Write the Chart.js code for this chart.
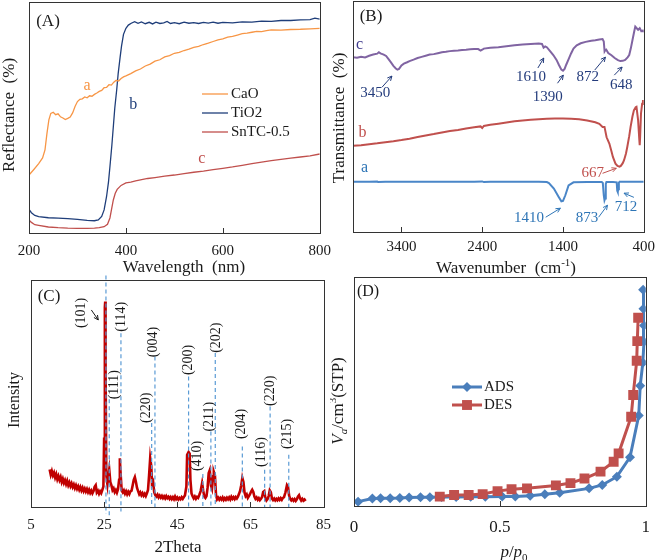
<!DOCTYPE html>
<html><head><meta charset="utf-8">
<script src="https://cdn.jsdelivr.net/npm/chart.js@4.4.1/dist/chart.umd.min.js"></script>
<style>
html,body{margin:0;padding:0;background:#fff;width:661px;height:560px;overflow:hidden;}
canvas{position:absolute;}
</style></head><body>
<canvas id="cA" width="340" height="280" style="left:0px;top:0px"></canvas>
<canvas id="cB" width="331" height="280" style="left:330px;top:0px"></canvas>
<canvas id="cC" width="340" height="290" style="left:0px;top:270px"></canvas>
<canvas id="cD" width="331" height="290" style="left:330px;top:270px"></canvas>
<script>
// ---------- Panel A: UV-vis reflectance ----------
const wlCaO = [200,210,220,228,233,237,241,245,250,255,260,265,270,275,280,285,290,295,300,305,310,315,320,325,330,335,340,345,350,355,360,365,370,375,380,385,390,395,400,410,420,430,440,450,460,470,480,490,500,510,520,530,540,550,560,570,580,590,600,610,620,630,640,650,660,670,680,690,700,720,740,760,780,800];
const refCaO = [25.1,27.5,30.0,32.5,36,43,49,51.8,52.3,51.2,51.6,50.3,49.8,49.1,49.6,50.2,52.0,54.8,56.9,57.9,58.1,58.9,58.5,59.4,59.2,60.0,60.6,61.3,61.7,62.9,63.0,64.2,64.0,65.3,66.1,65.8,66.9,67.6,68.0,69.0,70.2,71.0,72.3,73.1,74.4,75.0,76.2,76.8,77.8,78.2,79.0,79.6,80.4,80.8,81.6,82.2,82.9,83.6,84.0,84.8,85.1,85.7,86.3,86.5,86.9,87.3,87.2,87.6,87.9,87.8,88.1,88.2,88.4,88.6];
const wlTiO2 = [200,205,212,220,240,260,280,300,320,335,343,350,355,360,364,367,371,374,377,381,384,388,391,395,400,405,411,418,425,432,440,448,455,462,470,478,485,492,500,510,520,530,540,550,560,570,580,590,600,620,640,660,680,700,720,740,760,780,790,800];
const refTiO2 = [10.2,8.8,7.6,7.1,6.6,6.4,6.2,5.9,5.5,5.3,5.7,7.2,10,15.7,22,28.7,38,46.0,54,62,69,76,81,86,88.6,90.0,90.8,91.5,90.8,91.4,90.6,91.2,90.5,91.3,90.7,91.0,91.6,90.7,91.1,90.6,91.3,90.8,91.1,90.7,91.2,90.9,91.3,90.8,91.2,91.0,91.4,91.3,91.7,91.6,92.0,92.0,92.3,92.4,93.0,92.6];
const wlSnTC = [200,205,212,220,240,260,280,300,320,335,345,355,362,367,371,374,378,382,390,400,410,420,430,445,460,480,500,520,540,560,580,600,620,640,660,680,700,720,740,760,780,800];
const refSnTC = [5.6,4.6,3.6,3.3,2.6,2.3,2.1,2.0,2.0,2.1,2.3,2.7,3.8,6.5,11,14.3,17.2,18.9,20.6,21.7,22.0,22.6,23.0,23.6,24.0,24.6,25.1,25.7,26.3,26.8,27.4,28.0,28.6,29.3,30.0,30.7,31.3,31.9,32.4,32.9,33.4,34.2];
const ticksA = [200,400,600,800];

// ---------- Panel B: FTIR ----------
const wnC = [4000,3950,3900,3850,3800,3750,3700,3680,3660,3620,3590,3560,3530,3500,3470,3450,3430,3400,3370,3330,3300,3250,3200,3150,3100,3050,3000,2950,2900,2850,2800,2750,2700,2650,2600,2550,2500,2450,2420,2400,2380,2300,2200,2100,2000,1900,1800,1700,1660,1640,1620,1600,1560,1520,1480,1450,1420,1400,1380,1360,1330,1300,1270,1230,1180,1120,1050,1000,950,910,895,885,875,865,840,800,760,720,690,660,630,600,580,560,540,520,505,490,470,450,430,410,400];
const trC = [75.6,75.4,75.9,75.6,76.3,76.8,77.2,77.8,77.3,76.8,76.2,74.8,73.4,71.9,70.8,70.3,70.6,72.1,72.9,73.5,74.0,74.6,75.3,75.8,76.3,76.8,77.0,77.4,77.8,78.0,78.3,78.5,78.6,78.8,78.9,79.1,79.2,79.2,78.5,78.9,79.4,79.8,80.0,80.4,80.8,81.2,81.4,81.6,81.4,79.8,80.3,80.0,78.3,76.6,74.5,72.3,70.3,69.8,70.6,72.4,74.8,77.3,79.4,80.8,81.7,82.3,82.8,83.0,83.3,83.5,82.5,78.2,78.8,79.0,77.5,76.5,75.3,74.4,74.0,74.1,74.5,75.6,76.6,79.5,83.0,86.5,88.9,88.3,87.5,88.2,86.9,87.2,86.5];
const wnB = [4000,3900,3800,3700,3600,3500,3400,3300,3200,3100,3000,2900,2800,2700,2600,2500,2420,2400,2380,2300,2200,2100,2000,1900,1800,1700,1600,1500,1400,1300,1200,1100,1000,950,910,886,860,826,800,782,750,725,700,684,660,644,620,604,580,563,540,522,500,490,470,455,450,445,434,420,410,400];
const trB = [37.3,37.6,38.0,38.4,38.9,39.3,39.8,40.4,41.1,41.8,42.4,43.1,43.7,44.2,44.8,45.3,45.7,45.0,45.9,46.4,46.9,47.4,47.9,48.3,48.6,48.8,49.0,49.1,49.1,49.0,48.8,48.3,47.5,46.8,45.5,45.5,41.0,38.3,35.0,32.5,29.6,28.6,28.3,28.6,29.8,31.1,34.0,36.8,41.5,45.5,50.0,52.7,54.0,54.2,48.4,40.0,37.6,41.0,51.3,55.5,57.1,55.0];
const wnA = [4000,3800,3700,3690,3600,3400,3000,2500,2400,2380,2300,2000,1700,1600,1574,1513,1453,1420,1400,1371,1331,1270,1100,920,907,895,886,878,870,862,780,735,728,722,716,708,700,400];
const trA = [21.7,21.7,21.9,21.6,21.7,21.7,21.7,21.7,21.9,21.6,21.8,21.7,21.7,21.6,21.2,18.8,15.2,13.3,13.5,15.9,20.2,21.5,21.6,21.6,21.2,16.0,13.7,14.5,20.8,21.6,21.6,21.5,17.8,17.3,18.5,21.3,21.7,21.7];
const ticksB = [3400,2400,1400,400];

// ---------- Panel C: XRD ----------
const xrdTheta = [10.1,10.4,10.7,11.0,11.3,11.6,11.9,12.2,12.5,12.8,
13.1,13.4,13.7,14.0,14.3,14.6,14.9,15.2,15.5,15.8,
16.1,16.4,16.7,17.0,17.3,17.6,17.9,18.2,18.5,18.8,
19.1,19.4,19.7,20.0,20.3,20.6,20.9,21.2,21.5,21.8,
22.1,22.4,22.7,23.0,23.3,23.6,23.9,24.2,24.5,24.8,
25.0,25.2,25.3,25.4,25.6,25.9,26.1,26.4,26.7,27.0,
27.3,27.6,27.9,28.2,28.5,28.8,29.1,29.3,29.5,29.8,
30.1,30.4,30.7,31.0,31.3,31.6,31.9,32.2,32.5,32.8,
33.1,33.4,33.7,34.0,34.3,34.6,34.9,35.2,35.5,35.8,
36.1,36.4,36.7,37.0,37.3,37.6,37.9,38.1,38.4,38.7,
39.0,39.3,39.6,39.9,40.2,40.5,40.8,41.1,41.4,41.7,
42.0,42.3,42.6,42.9,43.2,43.5,43.8,44.1,44.4,44.7,
45.0,45.3,45.6,45.9,46.2,46.5,46.8,47.1,47.5,47.7,
48.1,48.4,48.6,48.9,49.2,49.5,49.8,50.1,50.4,50.7,
51.0,51.4,51.8,52.1,52.4,52.7,53.0,53.3,53.6,53.9,
54.2,54.5,54.8,55.0,55.3,55.6,55.9,56.2,56.5,56.8,
57.1,57.4,57.7,58.0,58.3,58.6,58.9,59.2,59.5,59.8,
60.1,60.4,60.7,61.0,61.3,61.6,61.9,62.2,62.5,62.8,
63.1,63.4,63.7,64.0,64.3,64.6,64.9,65.2,65.5,65.8,
66.1,66.4,66.7,67.0,67.3,67.6,67.9,68.2,68.5,68.8,
69.1,69.4,69.7,70.0,70.3,70.6,70.9,71.2,71.5,71.8,
72.1,72.4,72.7,73.0,73.3,73.6,73.9,74.2,74.6,75.0,
75.3,75.6,75.9,76.2,76.5,76.8,77.1,77.4,77.7,78.0,
78.3,78.6,78.9,79.2,79.5,79.8,80.1];
const xrdInt = [16.5,14.2,15.8,13.9,15.1,13.0,14.4,12.2,13.6,11.9,
13.2,11.0,12.4,10.6,11.8,10.1,11.5,9.6,10.8,9.2,
10.4,8.8,9.9,8.3,9.5,8.0,9.1,7.6,8.8,7.3,
8.5,7.0,8.1,6.8,7.9,6.5,7.6,6.2,7.2,6.0,
7.0,8.9,9.6,6.4,7.1,5.8,6.9,6.1,7.5,9.0,
30,88,90.5,60,14,10,13,16.5,11,9.5,
7.4,8.2,6.6,7.5,6.3,7.8,12,21.5,15,7.2,
6.4,7.3,5.9,6.9,5.6,6.7,5.7,6.9,7.2,9.5,
12.0,13.2,11.0,8.4,7.0,5.6,6.4,5.2,6.1,5.0,
5.8,4.8,6.0,7.5,14,21.5,18,10,11,6.5,
5.2,4.6,5.4,4.2,5.0,4.1,4.9,3.9,4.7,3.8,
4.8,3.9,4.5,3.6,4.4,3.5,4.3,3.4,4.6,3.5,
4.2,3.3,4.0,3.4,4.3,3.6,4.4,5.1,9,23,
24.2,23.5,12,6,4.8,3.8,4.6,3.6,4.4,4.0,
5.2,7.0,10.5,7.2,4.6,4.0,4.8,8.5,15.0,16.3,
9.5,8.0,13.5,15.5,14.0,5.5,3.4,4.1,3.2,4.0,
3.3,4.2,3.1,3.9,3.2,4.1,3.4,4.2,3.3,4.5,
3.6,4.3,3.5,4.4,3.8,4.6,5.8,7.2,9.6,12.8,
11.0,6.4,4.8,5.5,4.0,4.8,5.6,6.8,7.6,6.6,
4.6,3.6,4.2,3.2,3.9,3.0,3.6,4.4,6.6,7.0,
4.0,2.9,3.5,4.8,7.3,6.5,3.8,3.1,3.7,2.9,
3.6,3.0,3.8,3.1,3.9,3.2,4.0,4.3,6.5,9.6,
8.8,5.0,3.6,2.9,3.5,2.8,3.5,2.7,3.4,4.6,
5.2,3.8,2.9,3.6,2.8,3.3,2.6];
const peakHkl = ['(101)','(111)','(114)','(220)','(004)','(200)','(410)','(211)','(202)','(204)','(116)','(220)','(215)'];
const peakPos = [25.5,26.4,29.6,38.0,38.9,48.1,52.0,54.2,55.4,62.8,68.9,70.4,75.5];
const peakTop = [102,47.5,76.5,37.0,66.3,57.5,14.5,33.3,67.8,26.7,16.4,44.3,23.0];
const peakBot = [-3,-5,-2,0,0,0,0,0,0,0,0,0,0];
const ticksC = [5,25,45,65,85];

// ---------- Panel D: N2 isotherm ----------
const adsP = [0.014,0.063,0.091,0.124,0.157,0.189,0.228,0.26,0.30,0.35,0.40,0.45,0.508,0.553,0.604,0.654,0.705,0.806,0.851,0.901,0.946,0.976,0.981,0.990,0.994,0.994,0.992,0.991];
const adsV = [1.9,3.3,3.4,3.4,3.5,3.7,3.8,3.8,3.9,3.9,4.0,4.0,4.1,4.2,4.5,5.1,5.8,7.7,9.2,12.8,21.3,39.5,52.5,62.6,71.7,78.8,86.1,94.4];
const desP = [0.974,0.971,0.969,0.957,0.950,0.907,0.890,0.845,0.790,0.742,0.692,0.593,0.540,0.492,0.441,0.393,0.343,0.294];
const desV = [82.2,72.0,63.4,48.5,39.0,23.0,19.3,15.0,12.0,10.0,9.0,7.7,7.3,6.5,5.2,4.8,4.8,4.1];
const ticksD = [0,0.5,1];

// ---------- helpers ----------
const F = "'Liberation Serif','Times New Roman',serif";
const INK = '#1a1a1a';
const xy = (xs, ys) => xs.map((x, i) => ({x: x, y: ys[i]}));

function drawRich(ctx, segs, x, y, size, color, rot, align) {
  const fontFor = s => (s.it ? 'italic ' : '') + ((s.sub || s.sup) ? Math.round(size * 0.65) : size) + 'px ' + F;
  let w = 0;
  segs.forEach(s => { ctx.font = fontFor(s); s._w = ctx.measureText(s.t).width; w += s._w; });
  ctx.save();
  ctx.translate(x, y);
  if (rot) ctx.rotate(rot);
  ctx.fillStyle = color; ctx.textBaseline = 'middle'; ctx.textAlign = 'left';
  let cx = align === 'left' ? 0 : -w / 2;
  segs.forEach(s => {
    ctx.font = fontFor(s);
    const dy = s.sub ? size * 0.3 : (s.sup ? -size * 0.35 : 0);
    ctx.fillText(s.t, cx, dy);
    cx += s._w;
  });
  ctx.restore();
}

function deco(cfg) {
  return {
    id: 'deco',
    afterDraw(chart) {
      const ctx = chart.ctx, a = chart.chartArea, xs = chart.scales.x, ys = chart.scales.y;
      const ox = cfg.off[0], oy = cfg.off[1];
      const P = it => it.d ? [xs.getPixelForValue(it.d[0]), ys.getPixelForValue(it.d[1])] : [it.px[0] - ox, it.px[1] - oy];
      ctx.save();
      ctx.strokeStyle = '#333'; ctx.lineWidth = 1;
      xs.ticks.forEach(t => {
        if (t.value === xs.min || t.value === xs.max) return;
        const px = Math.round(xs.getPixelForValue(t.value)) + 0.5;
        ctx.beginPath(); ctx.moveTo(px, a.bottom); ctx.lineTo(px, a.bottom - 5); ctx.stroke();
      });
      ctx.strokeRect(Math.round(a.left) + 0.5, Math.round(a.top) + 0.5, Math.round(a.right - a.left), Math.round(a.bottom - a.top));
      (cfg.arrows || []).forEach(ar => {
        const p1 = P({d: ar.from}), p2 = P({d: ar.to});
        ctx.strokeStyle = ar.color; ctx.lineWidth = 1;
        ctx.beginPath(); ctx.moveTo(p1[0], p1[1]); ctx.lineTo(p2[0], p2[1]); ctx.stroke();
        const ang = Math.atan2(p2[1] - p1[1], p2[0] - p1[0]), h = 5;
        ctx.beginPath();
        ctx.moveTo(p2[0] - h * Math.cos(ang - 0.45), p2[1] - h * Math.sin(ang - 0.45));
        ctx.lineTo(p2[0], p2[1]);
        ctx.lineTo(p2[0] - h * Math.cos(ang + 0.45), p2[1] - h * Math.sin(ang + 0.45));
        ctx.stroke();
      });
      (cfg.texts || []).forEach(tx => {
        const p = P(tx);
        drawRich(ctx, tx.segs || [{t: tx.t}], p[0], p[1], tx.size || 15, tx.color || INK, tx.rot || 0, tx.align);
      });
      if (cfg.legend) {
        const L = cfg.legend;
        L.items.forEach((idx, k) => {
          const ds = chart.data.datasets[idx];
          const y = L.ys[k] - oy, x1 = L.x1 - ox, x2 = L.x2 - ox;
          ctx.strokeStyle = ds.borderColor; ctx.lineWidth = ds.borderWidth;
          ctx.beginPath(); ctx.moveTo(x1, y); ctx.lineTo(x2, y); ctx.stroke();
          if (ds.pointRadius > 0) {
            const mx = (x1 + x2) / 2, r = ds.pointRadius;
            ctx.fillStyle = ds.pointBackgroundColor;
            ctx.beginPath();
            if (ds.pointStyle === 'rect') { const s = Math.SQRT1_2 * r; ctx.rect(mx - s, y - s, 2 * s, 2 * s); }
            else { ctx.moveTo(mx, y - r); ctx.lineTo(mx + r, y); ctx.lineTo(mx, y + r); ctx.lineTo(mx - r, y); ctx.closePath(); }
            ctx.fill();
          }
          drawRich(ctx, [{t: ds.label}], L.tx - ox, y, L.size, INK, 0, 'left');
        });
      }
      ctx.restore();
    }
  };
}

function xAxis(min, max, ticks, height, pad, size, reverse, fmt) {
  return {
    type: 'linear', min: min, max: max, reverse: !!reverse,
    afterBuildTicks: s => { s.ticks = ticks.map(v => ({value: v})); },
    afterFit: s => { s.height = height; },
    ticks: {font: {family: F, size: size}, color: INK, padding: pad, maxRotation: 0, minRotation: 0, autoSkip: false,
            callback: v => fmt ? fmt(v) : String(v)},
    grid: {display: false, drawTicks: false},
    border: {display: false},
    title: {display: false}
  };
}
function yAxis(width) {
  return {
    type: 'linear', min: 0, max: 100,
    afterFit: s => { s.width = width; },
    ticks: {display: false},
    grid: {display: false, drawTicks: false},
    border: {display: false},
    title: {display: false}
  };
}
function lineDs(label, data, color, width, extra) {
  return Object.assign({label: label, data: data, borderColor: color, backgroundColor: color, borderWidth: width,
    pointRadius: 0, tension: 0, fill: false}, extra || {});
}
const base = (padding, scales, plugin, datasets) => ({
  type: 'line',
  data: {datasets: datasets},
  options: {
    responsive: false, animation: false, devicePixelRatio: 1, events: [],
    layout: {padding: padding, autoPadding: false},
    plugins: {legend: {display: false}, tooltip: {enabled: false}},
    scales: scales
  },
  plugins: [plugin]
});

// ---------- Chart A ----------
new Chart(document.getElementById('cA'), base(
  {top: 2, right: 15, left: 0, bottom: 0},
  {x: xAxis(200, 800, ticksA, 47, 9, 15), y: yAxis(29)},
  deco({
    off: [0, 0],
    texts: [
      {t: 'Wavelength  (nm)', px: [184, 268], size: 17},
      {t: 'Reflectance  (%)', px: [10, 115], size: 17, rot: -Math.PI / 2},
      {t: '(A)', px: [48, 22], size: 17},
      {t: 'a', d: [319.6, 63.6], size: 16, color: '#F79646'},
      {t: 'b', d: [414.9, 55.4], size: 16, color: '#1F3E7A'},
      {t: 'c', d: [556.8, 32.0], size: 16, color: '#C0504D'}
    ],
    legend: {items: [0, 1, 2], x1: 202, x2: 228, tx: 231, ys: [94, 113, 132], size: 15}
  }),
  [
    lineDs('CaO', xy(wlCaO, refCaO), '#F79646', 1.3),
    lineDs('TiO2', xy(wlTiO2, refTiO2), '#1F3E7A', 1.3),
    lineDs('SnTC-0.5', xy(wlSnTC, refSnTC), '#C0504D', 1.3)
  ]
));

// ---------- Chart B ----------
const navy = '#243C7C', redT = '#C0504D', blueT = '#2E75B6';
new Chart(document.getElementById('cB'), base(
  {top: 1, right: 11, left: 0, bottom: 0},
  {x: xAxis(400, 4000, ticksB, 48, 6, 15, true), y: yAxis(23)},
  deco({
    off: [330, 0],
    texts: [
      {segs: [{t: 'Wavenumber  (cm'}, {t: '-1', sup: true}, {t: ')'}], px: [506, 269], size: 17},
      {t: 'Transmittance  (%)', px: [340, 118], size: 17, rot: -Math.PI / 2},
      {t: '(B)', px: [371, 17], size: 17},
      {t: 'c', d: [3919, 80.9], size: 16, color: '#3F3A8C'},
      {t: 'b', d: [3883, 42.8], size: 16, color: redT},
      {t: 'a', d: [3858, 28.0], size: 16, color: blueT},
      {t: '3450', d: [3725, 60.1], color: navy},
      {t: '1610', d: [1796, 67.1], color: navy},
      {t: '1390', d: [1590, 58.4], color: navy},
      {t: '872', d: [1092, 67.1], color: navy},
      {t: '648', d: [680, 63.6], color: navy},
      {t: '667', d: [1031, 25.4], color: redT},
      {t: '1410', d: [1820, 5.9], color: blueT},
      {t: '873', d: [1104, 5.9], color: blueT},
      {t: '712', d: [619, 10.7], color: blueT}
    ],
    arrows: [
      {from: [3640, 62.7], to: [3518, 67.5], color: navy},
      {from: [1711, 71.0], to: [1638, 75.3], color: navy},
      {from: [1468, 64.4], to: [1396, 67.9], color: navy},
      {from: [1007, 70.1], to: [874, 75.7], color: navy},
      {from: [765, 67.9], to: [668, 71.4], color: navy},
      {from: [910, 25.4], to: [740, 27.6], color: redT},
      {from: [1614, 6.4], to: [1432, 10.3], color: blueT},
      {from: [959, 6.4], to: [849, 11.6], color: blueT},
      {from: [522, 15.0], to: [644, 16.8], color: blueT}
    ]
  }),
  [
    lineDs('c', xy(wnC, trC), '#8064A2', 2),
    lineDs('b', xy(wnB, trB), '#C0504D', 2),
    lineDs('a', xy(wnA, trA), '#4A86C8', 2)
  ]
));

// ---------- Chart C ----------
const peakDs = peakPos.map((p, i) => lineDs(peakHkl[i], [{x: p, y: peakTop[i]}, {x: p, y: peakBot[i]}], '#5B9BD5', 1.2,
  {borderDash: [4, 3], clip: false, order: 0}));
const lblX = [18.8, 27.8, 29.7, 36.5, 38.4, 48.1, 50.6, 53.8, 55.7, 62.5, 67.9, 70.4, 75.0];
const lblY = [85.5, 53.9, 83.8, 43.7, 72.7, 64.8, 22.5, 39.8, 74.6, 36.6, 24.2, 51.2, 32.2];
new Chart(document.getElementById('cC'), base(
  {top: 10, right: 14, left: 0, bottom: 0},
  {x: xAxis(5, 85, ticksC, 53, 9, 15), y: yAxis(31)},
  deco({
    off: [0, 270],
    texts: [
      {t: '2Theta', px: [178, 548], size: 17},
      {t: 'Intensity', px: [15, 400], size: 16, rot: -Math.PI / 2},
      {t: '(C)', px: [49, 297], size: 17}
    ].concat(peakHkl.map((h, i) => ({t: h, d: [lblX[i], lblY[i]], size: 14, rot: -Math.PI / 2}))),
    arrows: [{from: [21.5, 86.8], to: [23.4, 82.4], color: INK}]
  }),
  [lineDs('XRD', xy(xrdTheta, xrdInt), '#C00000', 2.6, {order: 1})].concat(peakDs)
));

// ---------- Chart D ----------
new Chart(document.getElementById('cD'), base(
  {top: 7, right: 10, left: 0, bottom: 0},
  {x: xAxis(0, 1, ticksD, 54, 11, 17), y: yAxis(24)},
  deco({
    off: [330, 270],
    texts: [
      {segs: [{t: 'p', it: true}, {t: '/'}, {t: 'p', it: true}, {t: '0', sub: true}], px: [514, 553], size: 17},
      {segs: [{t: 'V', it: true}, {t: 'a', it: true, sub: true}, {t: '/cm'}, {t: '3', sup: true}, {t: '(STP)'}], px: [339, 401], size: 17, rot: -Math.PI / 2},
      {t: '(D)', px: [368, 292], size: 16}
    ],
    legend: {items: [0, 1], x1: 452, x2: 482, tx: 484, ys: [387, 405], size: 15}
  }),
  [
    lineDs('ADS', xy(adsP, adsV), '#4A7EBB', 3, {pointRadius: 5, pointStyle: 'rectRot', pointBackgroundColor: '#4A7EBB', pointBorderWidth: 0, order: 2}),
    lineDs('DES', xy(desP, desV), '#C0504D', 3, {pointRadius: 7, pointStyle: 'rect', pointBackgroundColor: '#C0504D', pointBorderWidth: 0, order: 1})
  ]
));
</script>
</body></html>
